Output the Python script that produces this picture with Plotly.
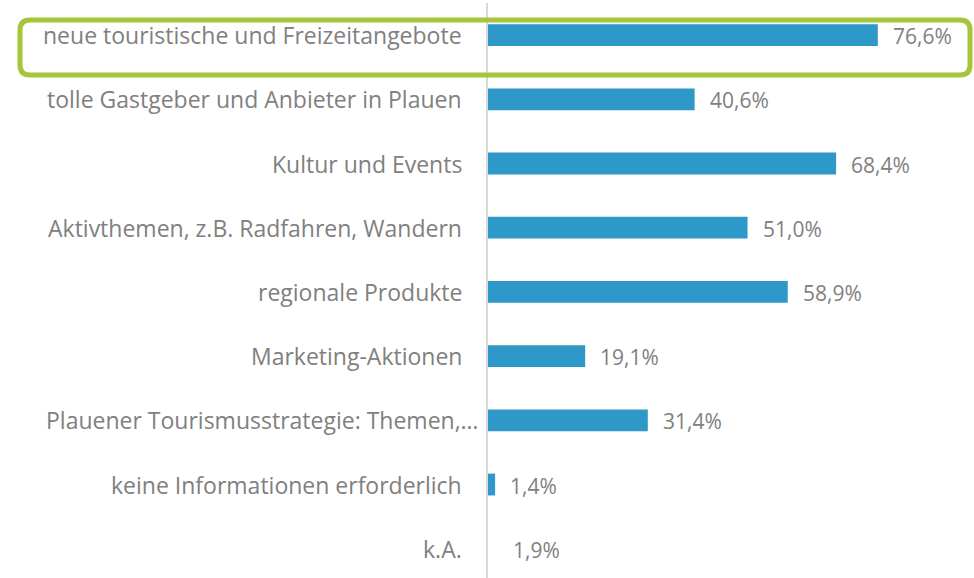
import plotly.graph_objects as go

categories = [
    "neue touristische und Freizeitangebote",
    "tolle Gastgeber und Anbieter in Plauen",
    "Kultur und Events",
    "Aktivthemen, z.B. Radfahren, Wandern",
    "regionale Produkte",
    "Marketing-Aktionen",
    "Plauener Tourismusstrategie: Themen,…",
    "keine Informationen erforderlich",
    "k.A.",
]
values = [76.6, 40.6, 68.4, 51.0, 58.9, 19.1, 31.4, 1.4, 1.9]
value_labels = ["76,6%", "40,6%", "68,4%", "51,0%", "58,9%", "19,1%", "31,4%", "1,4%", "1,9%"]
bar_visible = [True, True, True, True, True, True, True, True, False]
label_truncated = [False, False, False, False, False, False, True, False, False]

BAR = "#2e98c8"
GREY = "#808080"
GREEN = "#a5c53a"
FONT = "Open Sans, sans-serif"

colors = [BAR if v else "rgba(0,0,0,0)" for v in bar_visible]

fig = go.Figure()
fig.add_trace(go.Bar(
    x=values, y=categories, orientation="h",
    marker=dict(color=colors, line=dict(width=0)),
    width=0.34, hoverinfo="skip",
))

for c, v, t in zip(categories, values, value_labels):
    fig.add_annotation(x=v, y=c, text=t, showarrow=False, xanchor="left",
                       xshift=13, yshift=-1,
                       font=dict(family=FONT, size=21, color=GREY))

# category labels (the truncated one sits closer to the axis, as in the original)
for c, tr in zip(categories, label_truncated):
    fig.add_annotation(x=0, y=c, text=c, showarrow=False, xanchor="right",
                       xshift=-7 if tr else -24, yshift=0,
                       font=dict(family=FONT, size=23, color=GREY))

W, H = 974, 578
ml, mr, mt, mb = 488, 0, 3, 0
pw, ph = W - ml - mr, H - mt - mb
def px(x):
    return (x - ml) / pw
def py(y):
    return 1 - (y - mt) / ph
x0, x1, y0, y1, r = 20, 970, 20, 75, 10
path = (f"M {px(x0+r)},{py(y0)} L {px(x1-r)},{py(y0)} "
        f"Q {px(x1)},{py(y0)} {px(x1)},{py(y0+r)} "
        f"L {px(x1)},{py(y1-r)} Q {px(x1)},{py(y1)} {px(x1-r)},{py(y1)} "
        f"L {px(x0+r)},{py(y1)} Q {px(x0)},{py(y1)} {px(x0)},{py(y1-r)} "
        f"L {px(x0)},{py(y0+r)} Q {px(x0)},{py(y0)} {px(x0+r)},{py(y0)} Z")
fig.add_shape(type="path", xref="paper", yref="paper", path=path,
              line=dict(color=GREEN, width=5), fillcolor="rgba(0,0,0,0)")

fig.update_layout(
    width=W, height=H,
    margin=dict(l=ml, r=mr, t=mt, b=mb, pad=0),
    paper_bgcolor="white", plot_bgcolor="white",
    showlegend=False,
    xaxis=dict(range=[0, 95.5], visible=False, fixedrange=True),
    yaxis=dict(
        range=[8.456, -0.5], type="category", fixedrange=True,
        showline=True, linecolor="#d9d9d9", linewidth=1.5,
        showgrid=False, ticks="", showticklabels=False,
    ),
)

fig.write_html("out.html", config={"displayModeBar": False},
               post_script="document.body.style.margin='0';")
